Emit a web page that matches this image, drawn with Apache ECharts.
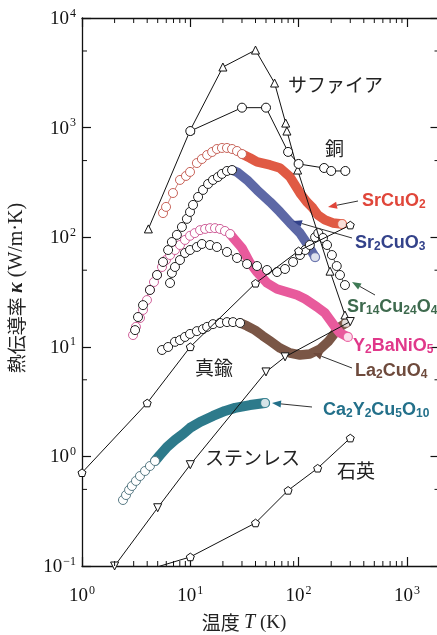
<!DOCTYPE html>
<html><head><meta charset="utf-8">
<script src="https://cdn.jsdelivr.net/npm/echarts@6/dist/echarts.min.js"></script>
<style>html,body{margin:0;padding:0;background:#fff}#c{width:437px;height:635px}</style>
</head><body><div id="c"></div>
<script>
// ---- axis ranges / ticks ----
const xRange = [1, 2000];
const yRange = [0.1, 10000];
const yMinorTicks = [0.5, 5, 50, 500, 5000];
const xMinorMult = [2, 3, 4, 5, 6, 7, 8, 9];

// ---- reference materials: [T (K), kappa (W/m K)] ----
const sapphire = [[4.1,119],[10,950],[20,3570],[40,5100],[60,2550],[76,1100],[78,930],[98,410],[195,49],[268,19.5]];
const copper = [[10,930],[30,1520],[50,1520],[80,600],[100,466],[172,428],[200,402],[270,402]];
const brass = [[1,0.71],[4,3.07],[10,10],[40,38],[100,75],[300,129]];
const stainless = [[2,0.1],[5,0.34],[10,0.84],[50,5.9],[75,8.1],[300,17]];
const quartz = [[4,0.092],[10,0.121],[40,0.247],[80,0.49],[150,0.78],[300,1.47]];

// ---- quantum spin materials: sparse circles + dense band ----
const srcuo2Sparse = [[5.6,166],[5.97,189],[6.92,253],[8.03,333],[9.12,362],[9.94,394],[11.5,475],[12.8,517],[14.3,562],[15.9,599],[17.6,638],[19.6,652],[21.8,652],[24.3,638],[27.0,612],[30.0,574]];
const srcuo2Band = [[35.6,528],[41.3,486],[54.5,456],[67.3,428],[83.3,355],[103,253],[119,210],[135,185],[150,160],[175,144],[207,135],[252,132]];

const sr2cuo3Sparse = [[3.09,14.2],[3.29,18.7],[3.66,24.0],[4.24,33.0],[4.93,45.2],[5.6,59.4],[6.24,76.4],[6.76,90.4],[7.52,105],[8.37,124],[9.3,147],[9.94,170],[10.6,197],[11.8,233],[13.1,270],[14.6,306],[16.2,333],[18.0,354],[19.6,378],[21.8,402],[24.3,410]];
const sr2cuo3Band = [[27.0,393],[33.4,333],[41.3,270],[54.5,210],[67.3,170],[83.3,135],[103,109],[122,84.9],[142,65.9]];

const y2banio5Sparse = [[2.96,12.8],[3.15,15.2],[3.43,18.3],[3.66,21.7],[3.98,26.7],[4.24,33.0],[4.62,39.0],[4.93,45.2],[5.48,53.5],[5.96,61.9],[6.5,68.8],[7.22,76.4],[8.03,84.9],[8.93,94.4],[9.94,103],[11.0,109],[12.3,116],[13.7,119],[15.2,121],[16.9,121],[18.8,119],[20.9,114],[23.3,107]];
const y2banio5Band = [[25.9,94.4],[30.0,79.7],[35.6,58.2],[41.3,48.1],[51.1,38.2],[63.2,33.7],[78.3,31.6],[96.8,29.7],[115,27.3],[148,23.1],[175,20.4],[195,17.6],[217,15.2],[241,13.4],[285,12.3]];

const sr14Circles = [[6.5,38.2],[6.76,47.2],[7.22,53.5],[8.03,61.9],[8.93,71.8],[9.94,76.4],[11.5,81.4],[12.8,86.7],[15.2,84.9],[17.6,81.4],[21.8,73.3],[27.0,64.6],[33.4,56.9],[41.3,54.6],[51.1,50.2],[63.2,48.1],[74.9,51.3],[88.9,59.4],[103,68.8],[115,76.4],[127,84.9],[142,100],[152,109],[168,98.4],[183,84.9],[203,68.8],[225,54.6],[241,45.2],[268,36.6]];

const la2cuo4Sparse = [[5.48,9.35],[6.24,9.96],[7.22,11.1],[8.03,11.5],[8.93,12.3],[9.94,13.1],[11.5,13.9],[13.1,14.5],[14.3,15.2],[16.2,16.1],[18.8,16.5],[21.8,16.8],[24.8,16.8],[28.8,16.5]];
const la2cuo4Band = [[33.4,15.5],[39.6,14.2],[46.6,12.6],[54.5,11.3],[67.3,9.75],[83.3,8.78],[103,8.42],[127,8.6],[158,9.55],[187,11.1],[217,13.4],[241,15.2],[274,16.5]];

const ca2y2Sparse = [[2.39,0.4],[2.55,0.444],[2.72,0.494],[2.89,0.537],[3.15,0.597],[3.43,0.662],[3.82,0.736],[4.24,0.817],[4.72,0.908]];
const ca2y2Band = [[5.25,1.03],[6.1,1.22],[7.22,1.41],[8.56,1.6],[9.94,1.82],[12.3,2.06],[16.2,2.34],[20.9,2.6],[25.9,2.77],[35.6,2.94],[49.0,3.07]];

const chart = echarts.init(document.getElementById('c'), null, {renderer: 'canvas'});

const SERIF = '"Liberation Serif", "DejaVu Serif", serif';
const SANS = '"Liberation Sans", Arial, sans-serif';
const CJK = '"Noto Sans CJK JP", sans-serif';
const PENT = 'path://M0,-1 L0.951,-0.309 L0.588,0.809 L-0.588,0.809 L-0.951,-0.309 Z';

function refLine(data, symbol, size, rot) {
  return {type: 'line', data, symbol, symbolSize: size, symbolRotate: rot || 0, symbolKeepAspect: true,
    itemStyle: {color: '#fff', borderColor: '#111', borderWidth: 1},
    lineStyle: {color: '#111', width: 1}, z: 6, silent: true};
}
function material(sparse, band, edge, bandColor, bw) {
  const out = [];
  if (band) {
    const bd = [sparse[sparse.length - 1]].concat(band);
    out.push({type: 'line', data: bd, symbol: 'none', lineStyle: {color: bandColor, width: bw || 9.5, cap: 'round', join: 'round'}, z: 3, silent: true});
    out.push({type: 'scatter', data: [band[band.length - 1]], symbol: 'circle', symbolSize: 9,
      itemStyle: {color: '#fff', borderColor: bandColor, borderWidth: 1.2}, z: 5, silent: true});
  }
  out.push({type: 'line', data: sparse, symbol: 'circle', symbolSize: 9,
    itemStyle: {color: '#fff', borderColor: edge, borderWidth: 1}, lineStyle: {color: edge, width: 0.8}, z: 4, silent: true});
  return out;
}

const xMinor = [];
[1, 10, 100, 1000].forEach(d => xMinorMult.forEach(m => { if (m * d < xRange[1]) xMinor.push([m * d, 1]); }));
const yMinor = yMinorTicks.map(v => [1, v]);

function lbl(v) {
  const e = Math.round(Math.log10(v));
  if (Math.abs(Math.log10(v) - e) > 1e-6) return '';
  return '{b|10}{s|' + (e < 0 ? '\u2212' + (-e) : e) + '}';
}
const richLbl = {b: {fontFamily: SERIF, fontSize: 19, color: '#111', verticalAlign: 'bottom'},
  s: {fontFamily: SERIF, fontSize: 12, color: '#111', verticalAlign: 'bottom', padding: [0, 0, 9, 1]}};

const axisCommon = {
  type: 'log', logBase: 10, splitLine: {show: false},
  axisLine: {show: true, lineStyle: {color: '#111', width: 1.3}},
  axisTick: {show: true, inside: true, length: 9, lineStyle: {color: '#111', width: 1.2}}
};

const series = [].concat(
  material(sr14Circles, null, '#222'),
  material(la2cuo4Sparse, la2cuo4Band, '#222', '#7a5646'),
  material(y2banio5Sparse, y2banio5Band, '#d0609a', '#e85a9c'),
  material(sr2cuo3Sparse, sr2cuo3Band, '#222', '#5d68a6'),
  material(srcuo2Sparse, srcuo2Band, '#c8645a', '#e05a44'),
  material(ca2y2Sparse, ca2y2Band, '#5a7c86', '#2d7a8b', 10),
  [
    refLine(sapphire, 'triangle', 8),
    refLine(copper, 'circle', 9),
    refLine(brass, PENT, 8),
    refLine(stainless, 'triangle', 8, 180),
    refLine(quartz, PENT, 8),
    {type: 'custom', data: xMinor, z: 10, silent: true, clip: false,
      renderItem: (p, api) => {
        const v = api.value(0);
        const b = api.coord([v, yRange[0]]), t = api.coord([v, yRange[1]]);
        const st = {stroke: '#111', lineWidth: 1};
        return {type: 'group', children: [
          {type: 'line', shape: {x1: b[0], y1: b[1], x2: b[0], y2: b[1] - 5}, style: st},
          {type: 'line', shape: {x1: t[0], y1: t[1], x2: t[0], y2: t[1] + 5}, style: st}]};
      }},
    {type: 'custom', data: yMinor, z: 10, silent: true, clip: false,
      renderItem: (p, api) => {
        const v = api.value(1);
        const l = api.coord([xRange[0], v]), r = api.coord([xRange[1], v]);
        const st = {stroke: '#111', lineWidth: 1};
        return {type: 'group', children: [
          {type: 'line', shape: {x1: l[0], y1: l[1], x2: l[0] + 5, y2: l[1]}, style: st},
          {type: 'line', shape: {x1: r[0], y1: r[1], x2: r[0] - 5, y2: r[1]}, style: st}]};
      }}
  ]
);

function arrow(x1, y1, x2, y2, color) {
  const a = Math.atan2(y2 - y1, x2 - x1), L = 9, W = 3.5;
  const bx = x2 - L * Math.cos(a), by = y2 - L * Math.sin(a);
  const px = -Math.sin(a) * W, py = Math.cos(a) * W;
  return [
    {type: 'line', shape: {x1, y1, x2: bx, y2: by}, style: {stroke: '#333', lineWidth: 1}, z: 20},
    {type: 'polygon', shape: {points: [[x2, y2], [bx + px, by + py], [bx - px, by - py]]}, style: {fill: color}, z: 20}
  ];
}
function ftxt(x, y, text, color, rich) {
  return {type: 'text', x, y, z: 20, style: {text, fill: color, align: 'left', verticalAlign: 'middle', rich}};
}
const chemRich = c => ({n: {fontFamily: SANS, fontWeight: 'bold', fontSize: 18, fill: c}, d: {fontFamily: SANS, fontWeight: 'bold', fontSize: 12, fill: c, padding: [8, 0, 0, 0]}});
const cjk = (x, y, t) => ({type: 'text', x, y, z: 20, style: {text: t, fill: '#222', font: '19px ' + CJK, align: 'left', verticalAlign: 'middle'}});

const graphic = [].concat(
  cjk(288, 85, 'サファイア'), cjk(325, 149, '銅'), cjk(195, 368, '真鍮'),
  cjk(205, 458, 'ステンレス'), cjk(337, 471, '石英'),
  ftxt(362, 201, '{n|SrCuO}{d|2}', '#e0463a', chemRich('#e0463a')),
  ftxt(355, 243, '{n|Sr}{d|2}{n|CuO}{d|3}', '#33428a', chemRich('#33428a')),
  ftxt(347, 307, '{n|Sr}{d|14}{n|Cu}{d|24}{n|O}{d|41}', '#3e6a4e', chemRich('#3e6a4e')),
  ftxt(353, 346, '{n|Y}{d|2}{n|BaNiO}{d|5}', '#e0388a', chemRich('#e0388a')),
  ftxt(355, 371, '{n|La}{d|2}{n|CuO}{d|4}', '#6e4a3c', chemRich('#6e4a3c')),
  ftxt(323, 410, '{n|Ca}{d|2}{n|Y}{d|2}{n|Cu}{d|5}{n|O}{d|10}', '#23708a', chemRich('#23708a')),
  arrow(358, 201, 328, 207, '#e0463a'),
  arrow(352, 238, 293, 221, '#33428a'),
  arrow(375, 295, 352, 282, '#3e7a55'),
  arrow(352, 368, 313, 353, '#6e4a3c'),
  arrow(312, 407, 272, 403, '#23708a'),
  [{type: 'text', x: 244, y: 623, z: 20, style: {text: '{j|温度 }{t|T}{r| (K)}', align: 'center', verticalAlign: 'middle',
     rich: {j: {fontFamily: CJK, fontSize: 19, fill: '#222'}, t: {fontFamily: SERIF, fontStyle: 'italic', fontSize: 20, fill: '#222'}, r: {fontFamily: SERIF, fontSize: 19, fill: '#222'}}}},
   {type: 'text', x: 17, y: 288, rotation: Math.PI / 2, z: 20, style: {text: '{j|熱伝導率 }{k|κ}{r| (W/m·K)}', align: 'center', verticalAlign: 'middle',
     rich: {j: {fontFamily: CJK, fontSize: 19, fill: '#222'}, k: {fontFamily: SERIF, fontStyle: 'italic', fontWeight: 'bold', fontSize: 20, fill: '#222'}, r: {fontFamily: SERIF, fontSize: 20, fill: '#222'}}}}]
);

chart.setOption({
  animation: false,
  backgroundColor: '#fff',
  grid: {left: 82, top: 18, width: 357.5, height: 548, containLabel: false, outerBoundsMode: 'none'},
  xAxis: [
    Object.assign({}, axisCommon, {position: 'bottom', min: xRange[0], max: xRange[1],
      axisLabel: {show: true, margin: 19, formatter: lbl, rich: richLbl, showMaxLabel: false}}),
    Object.assign({}, axisCommon, {position: 'top', min: xRange[0], max: xRange[1], axisLabel: {show: false}})
  ],
  yAxis: [
    Object.assign({}, axisCommon, {position: 'left', min: yRange[0], max: yRange[1],
      axisLabel: {show: true, margin: 6, formatter: lbl, rich: richLbl}}),
    Object.assign({}, axisCommon, {position: 'right', min: yRange[0], max: yRange[1], axisLabel: {show: false}})
  ],
  series,
  graphic
});
</script></body></html>
